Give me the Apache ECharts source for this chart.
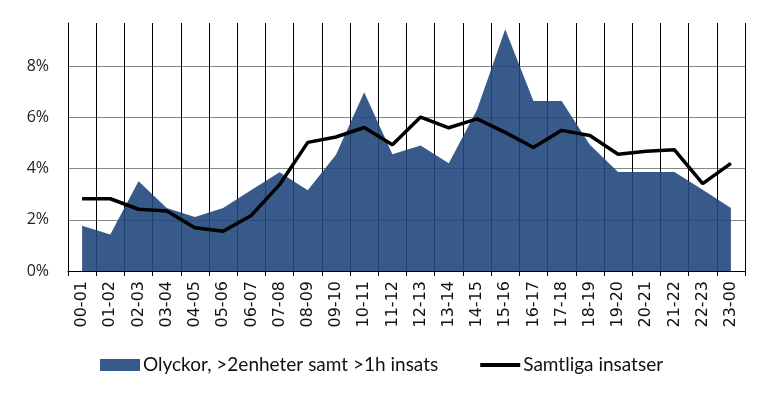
<!DOCTYPE html>
<html>
<head>
<meta charset="utf-8">
<script src="https://cdn.jsdelivr.net/npm/echarts@6/dist/echarts.min.js"></script>
<style>
  html, body { margin: 0; padding: 0; background: #fff; }
  #main { width: 767px; height: 397px; }
</style>
</head>
<body>
<div id="main"></div>
<script>
// timintervall
var hours = ['00-01','01-02','02-03','03-04','04-05','05-06','06-07','07-08','08-09','09-10','10-11','11-12',
             '12-13','13-14','14-15','15-16','16-17','17-18','18-19','19-20','20-21','21-22','22-23','23-00'];
// andel i procent
var olyckor = [1.77,1.42,3.50,2.46,2.11,2.46,3.16,3.85,3.15,4.54,6.98,4.56,
               4.90,4.21,6.29,9.44,6.64,6.64,4.93,3.86,3.86,3.86,3.17,2.46];
var samtliga = [2.82,2.82,2.41,2.34,1.69,1.55,2.17,3.37,5.02,5.23,5.60,4.93,
                6.01,5.59,5.94,5.41,4.82,5.49,5.29,4.56,4.67,4.73,3.41,4.20];

var chart = echarts.init(document.getElementById('main'));

// tunn linje som legendikon (små punkter ger rätt höjd på ikonen)
var lineIcon = 'path://M0,0 L0.01,0 L0.01,0.01 Z M0,4 L40,4 L40,8 L0,8 Z M0,11.99 L0.01,11.99 L0.01,12 Z';

chart.setOption({
  animation: false,
  backgroundColor: '#fff',
  grid: { left: 68, right: 22, top: 23, bottom: 126 },
  legend: {
    top: 354,
    left: 100,
    padding: 0,
    itemWidth: 40,
    itemHeight: 12,
    itemGap: 42,
    textStyle: { fontFamily: 'Lato', fontSize: 19, lineHeight: 22, color: '#111', padding: [0, 0, 0, -2] },
    data: [
      { name: 'Olyckor, >2enheter samt >1h insats', icon: 'rect' },
      { name: 'Samtliga insatser', icon: lineIcon, itemStyle: { color: '#000' } }
    ]
  },
  xAxis: {
    type: 'category',
    data: hours,
    boundaryGap: true,
    axisLine: { lineStyle: { color: '#000', width: 1 } },
    axisTick: { show: true, length: 5, lineStyle: { color: '#000' } },
    splitLine: { show: true, lineStyle: { color: '#000', width: 1 } },
    axisLabel: {
      rotate: 90,
      interval: 0,
      margin: 10,
      fontFamily: 'DejaVu Sans',
      fontSize: 16,
      color: '#111'
    }
  },
  yAxis: {
    type: 'value',
    min: 0,
    max: 9.68,
    interval: 2,
    axisLine: { show: true, lineStyle: { color: '#000', width: 1 } },
    axisTick: { show: false },
    axisLabel: {
      margin: 19,
      fontFamily: 'Open Sans',
      fontSize: 16,
      color: '#222',
      formatter: function (v) { return (v % 2 === 0) ? v + '%' : ''; }
    },
    splitLine: {
      show: true,
      lineStyle: {
        color: ['#868686','#868686','#868686','#868686','#868686','rgba(0,0,0,0)'],
        width: 1
      }
    }
  },
  series: [
    {
      name: 'Olyckor, >2enheter samt >1h insats',
      type: 'line',
      data: olyckor,
      symbol: 'none',
      itemStyle: { color: '#385a8a' },
      lineStyle: { width: 0 },
      areaStyle: { color: '#22487d', opacity: 0.9 },
      z: 2
    },
    {
      name: 'Samtliga insatser',
      type: 'line',
      data: samtliga,
      symbol: 'none',
      itemStyle: { color: '#000' },
      lineStyle: { color: '#000', width: 3.5 },
      z: 3
    }
  ]
});
</script>
</body>
</html>
